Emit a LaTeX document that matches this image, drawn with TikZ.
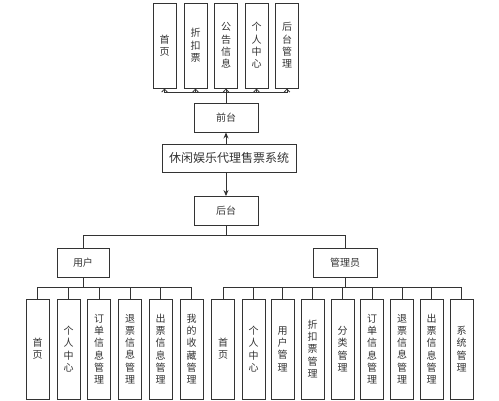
\documentclass[tikz,border=0pt]{standalone}
\usepackage{fontspec}
\setmainfont{Noto Sans CJK SC}
\usetikzlibrary{arrows.meta}
\definecolor{ink}{HTML}{333333}
\begin{document}
\begin{tikzpicture}[x=1pt,y=-1pt,
  every node/.style={text=ink},
  box/.style={draw=ink,line width=0.9pt,rectangle,inner sep=0pt,align=center},
  vbox/.style={box,minimum width=23pt,font=\fontsize{10}{12.3}\selectfont},
  topbox/.style={vbox,minimum height=85pt},
  leaf/.style={vbox,minimum height=100pt},
  hbox/.style={box,minimum width=64pt,minimum height=29pt,font=\fontsize{10}{12}\selectfont},
  line/.style={draw=ink,line width=0.9pt},
  uparrow/.style={line,-{Straight Barb[length=3pt,width=5.5pt,line width=0.8pt]}},
  mainarrow/.style={line,-{Stealth[length=6pt,width=5pt]}}
]
\useasboundingbox (0,0) rectangle (499,400);
% top level
\node[topbox] (t1) at (164.5,45.5) {首\\页};
\node[topbox] (t2) at (195.5,45.5) {折\\扣\\票};
\node[topbox] (t3) at (226,45.5) {公\\告\\信\\息};
\node[topbox] (t4) at (256.5,45.5) {个\\人\\中\\心};
\node[topbox] (t5) at (287,45.5) {后\\台\\管\\理};
\node[hbox] (qian) at (226,117.5) {前台};
\node[box,minimum width=134pt,minimum height=28pt,font=\fontsize{12}{14}\selectfont] (main) at (229,158) {休闲娱乐代理售票系统};
\node[hbox] (hou) at (226,211) {后台};
\node[box,minimum width=52pt,minimum height=29pt,font=\fontsize{10}{12}\selectfont] (user) at (83,262.5) {用户};
\node[hbox] (admin) at (345,262.5) {管理员};
% user leaves
\node[leaf] (u1) at (37.5,349) {首\\页};
\node[leaf] (u2) at (68.5,349) {个\\人\\中\\心};
\node[leaf] (u3) at (99,349) {订\\单\\信\\息\\管\\理};
\node[leaf] (u4) at (130,349) {退\\票\\信\\息\\管\\理};
\node[leaf] (u5) at (160.5,349) {出\\票\\信\\息\\管\\理};
\node[leaf] (u6) at (191.5,349) {我\\的\\收\\藏\\管\\理};
% admin leaves
\node[leaf] (a1) at (223,349) {首\\页};
\node[leaf] (a2) at (253.5,349) {个\\人\\中\\心};
\node[leaf] (a3) at (282.5,349) {用\\户\\管\\理};
\node[leaf] (a4) at (312.5,349) {折\\扣\\票\\管\\理};
\node[leaf] (a5) at (342.5,349) {分\\类\\管\\理};
\node[leaf] (a6) at (372,349) {订\\单\\信\\息\\管\\理};
\node[leaf] (a7) at (402,349) {退\\票\\信\\息\\管\\理};
\node[leaf] (a8) at (431.5,349) {出\\票\\信\\息\\管\\理};
\node[leaf] (a9) at (461.5,349) {系\\统\\管\\理};
% buses
\coordinate (topbus) at (0,92.5);
\coordinate (midbus) at (0,235);
\coordinate (lowbus) at (0,287);
% top connectors
\draw[line] (qian.north) -- (qian.north |- topbus);
\draw[line] (t1.south |- topbus) -- (t5.south |- topbus);
\foreach \t in {t1,t2,t3,t4,t5}
  \draw[uparrow] (\t.south |- topbus) -- (\t.south);
\draw[mainarrow] (qian.south |- main.north) -- (qian.south);
\draw[mainarrow] (hou.north |- main.south) -- (hou.north);
% middle
\draw[line] (hou.south) -- (hou.south |- midbus);
\draw[line] (user.north) -- (user.north |- midbus) -- (admin.north |- midbus) -- (admin.north);
% user leaves
\draw[line] (user.south) -- (user.south |- lowbus);
\draw[line] (u1.north |- lowbus) -- (u6.north |- lowbus);
\foreach \u in {u1,u2,u3,u4,u5,u6}
  \draw[line] (\u.north |- lowbus) -- (\u.north);
% admin leaves
\draw[line] (admin.south) -- (admin.south |- lowbus);
\draw[line] (a1.north |- lowbus) -- (a9.north |- lowbus);
\foreach \a in {a1,a2,a3,a4,a5,a6,a7,a8,a9}
  \draw[line] (\a.north |- lowbus) -- (\a.north);
\end{tikzpicture}
\end{document}
